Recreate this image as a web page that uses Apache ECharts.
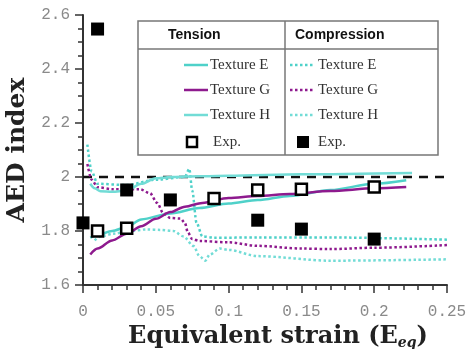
<!DOCTYPE html>
<html><head><meta charset="utf-8">
<script src="https://cdn.jsdelivr.net/npm/echarts@6/dist/echarts.min.js"></script>
<style>html,body{margin:0;padding:0;background:#fff}#c{width:469px;height:349px}</style>
</head><body><div id="c"></div>
<script>
var xTicks = [0, 0.05, 0.1, 0.15, 0.2, 0.25];
var yTicks = [1.6, 1.8, 2, 2.2, 2.4, 2.6];

var tensionE = [[0.005,1.775],[0.01,1.785],[0.02,1.80],[0.03,1.815],[0.04,1.843],[0.06,1.865],[0.08,1.885],[0.1,1.902],[0.12,1.915],[0.142,1.93],[0.17,1.952],[0.2,1.975],[0.222,1.988]];
var tensionG = [[0.005,1.713],[0.01,1.735],[0.02,1.765],[0.03,1.79],[0.04,1.818],[0.05,1.845],[0.06,1.87],[0.07,1.89],[0.082,1.904],[0.1,1.922],[0.12,1.93],[0.142,1.937],[0.17,1.948],[0.2,1.958],[0.222,1.963]];
var tensionH = [[0.005,1.975],[0.008,1.958],[0.012,1.947],[0.02,1.945],[0.03,1.95],[0.04,1.975],[0.05,1.995],[0.06,2.0],[0.1,2.005],[0.15,2.01],[0.226,2.015]];
var tensionExp = [[0.01,1.80],[0.03,1.81],[0.09,1.92],[0.12,1.952],[0.15,1.955],[0.2,1.963]];

var compE = [[0.003,2.12],[0.006,2.02],[0.01,1.975],[0.03,1.97],[0.05,1.99],[0.07,2.0],[0.073,2.03],[0.075,1.95],[0.078,1.83],[0.082,1.78],[0.09,1.775],[0.12,1.776],[0.17,1.776],[0.25,1.768]];
var compG = [[0.003,2.048],[0.006,1.99],[0.01,1.962],[0.02,1.955],[0.039,1.955],[0.046,1.94],[0.051,1.904],[0.055,1.867],[0.06,1.848],[0.067,1.846],[0.07,1.83],[0.072,1.795],[0.075,1.77],[0.08,1.763],[0.1,1.758],[0.12,1.745],[0.15,1.735],[0.17,1.733],[0.2,1.738],[0.25,1.748]];
var compH = [[0.008,1.765],[0.012,1.78],[0.021,1.79],[0.032,1.80],[0.044,1.806],[0.053,1.804],[0.062,1.80],[0.069,1.78],[0.076,1.744],[0.08,1.707],[0.084,1.69],[0.087,1.713],[0.094,1.735],[0.1,1.73],[0.12,1.707],[0.17,1.69],[0.25,1.695]];
var compExp = [[0,1.83],[0.01,2.548],[0.03,1.952],[0.06,1.915],[0.12,1.84],[0.15,1.807],[0.2,1.77]];
var refLine = [[0,2],[0.25,2]];

var cyan = '#4fd1c9', cyanL = '#72dcd6', purple = '#8e1a8e';
var dot = [2.5, 2.5];

function lineS(data, color, dash, w) {
  return {type:'line', data:data, showSymbol:false, smooth:0.3, smoothMonotone:'x', silent:true,
    lineStyle:{color:color, width:w||2.5, type:dash||'solid'}, z:2};
}

var chart = echarts.init(document.getElementById('c'), null, {renderer:'canvas'});
var serif = '"Liberation Serif", "DejaVu Serif", serif';
var bserif = '"DejaVu Serif", serif';
var L = 138, R = 438, T = 21, B = 155, D = 285, H = 49;
var rows = [65, 90, 115, 142];
var g = [
  {type:'rect', shape:{x:L, y:T, width:R-L, height:B-T}, style:{fill:'#fff', stroke:'#777', lineWidth:1.5}, z:10},
  {type:'line', shape:{x1:D, y1:T, x2:D, y2:B}, style:{stroke:'#777', lineWidth:1.5}, z:11},
  {type:'line', shape:{x1:L, y1:H, x2:R, y2:H}, style:{stroke:'#777', lineWidth:1.5}, z:11},
  {type:'text', x:168, y:35, style:{text:'Tension', font:'bold 14px "Liberation Sans", Arial, sans-serif', fill:'#111', verticalAlign:'middle'}, z:12},
  {type:'text', x:295, y:35, style:{text:'Compression', font:'bold 14px "Liberation Sans", Arial, sans-serif', fill:'#111', verticalAlign:'middle'}, z:12}
];
var tl = [['Texture E', cyan], ['Texture G', purple], ['Texture H', cyanL]];
var cl = [['Texture E', cyan], ['Texture G', purple], ['Texture H', cyanL]];
for (var i = 0; i < 3; i++) {
  g.push({type:'line', shape:{x1:184, y1:rows[i], x2:208, y2:rows[i]}, style:{stroke:tl[i][1], lineWidth:2.5}, z:12});
  g.push({type:'text', x:210, y:rows[i], style:{text:tl[i][0], font:'15px '+serif, fill:'#333', verticalAlign:'middle'}, z:12});
  g.push({type:'line', shape:{x1:290, y1:rows[i], x2:313, y2:rows[i]}, style:{stroke:cl[i][1], lineWidth:2.5, lineDash:dot}, z:12});
  g.push({type:'text', x:318, y:rows[i], style:{text:cl[i][0], font:'15px '+serif, fill:'#333', verticalAlign:'middle'}, z:12});
}
g.push({type:'rect', shape:{x:187, y:rows[3]-5, width:10, height:10}, style:{fill:'#fff', stroke:'#000', lineWidth:2.5}, z:12});
g.push({type:'text', x:213, y:rows[3], style:{text:'Exp.', font:'15px '+serif, fill:'#333', verticalAlign:'middle'}, z:12});
g.push({type:'rect', shape:{x:297, y:rows[3]-6, width:12, height:12}, style:{fill:'#000'}, z:12});
g.push({type:'text', x:318, y:rows[3], style:{text:'Exp.', font:'15px '+serif, fill:'#333', verticalAlign:'middle'}, z:12});

var mono = '"Liberation Mono", "DejaVu Sans Mono", monospace';
chart.setOption({
  animation:false,
  backgroundColor:'#fff',
  grid:{left:83, right:22, top:15, bottom:64, containLabel:false, outerBoundsMode:'none'},
  xAxis:{type:'value', min:xTicks[0], max:xTicks[xTicks.length-1], interval:0.05,
    axisLine:{show:true, onZero:false, lineStyle:{color:'#333', width:2}},
    axisTick:{show:true, length:8, lineStyle:{color:'#333', width:1.5}},
    minorTick:{show:true, splitNumber:5, length:5, lineStyle:{color:'#333', width:1.5}},
    splitLine:{show:false},
    axisLabel:{margin:19, color:'#8a8a8a', fontFamily:mono, fontSize:16, formatter:function(v){return String(+v.toFixed(2));}},
    name:'{a|Equivalent strain (E}{s|eq}{a|)}', nameLocation:'middle', nameGap:34,
    nameTextStyle:{padding:[0,0,0,26], rich:{a:{fontFamily:bserif, fontWeight:'bold', fontSize:24, color:'#222'}, s:{fontFamily:bserif, fontStyle:'italic', fontWeight:'bold', fontSize:14, color:'#222', verticalAlign:'bottom', padding:[12,0,0,0]}}}
  },
  yAxis:{type:'value', min:yTicks[0], max:yTicks[yTicks.length-1], interval:0.2,
    axisLine:{show:true, onZero:false, lineStyle:{color:'#333', width:2}},
    axisTick:{show:true, length:8, lineStyle:{color:'#333', width:1.5}},
    minorTick:{show:true, splitNumber:4, length:5, lineStyle:{color:'#333', width:1.5}},
    splitLine:{show:false},
    axisLabel:{margin:13, color:'#8a8a8a', fontFamily:mono, fontSize:16, formatter:function(v){return String(+v.toFixed(1));}},
    name:'AED index', nameLocation:'middle', nameGap:46, nameRotate:90,
    nameTextStyle:{fontFamily:bserif, fontWeight:'bold', fontSize:25, color:'#222'}
  },
  graphic:g,
  series:[
    {type:'line', data:refLine, showSymbol:false, silent:true, lineStyle:{color:'#111', width:2.5, type:[9,7]}, z:1},
    lineS(compH, cyanL, dot),
    lineS(compE, cyan, dot),
    lineS(compG, purple, dot),
    lineS(tensionH, cyanL, 'solid'),
    lineS(tensionE, cyan, 'solid'),
    lineS(tensionG, purple, 'solid'),
    {type:'scatter', data:tensionExp, symbol:'rect', symbolSize:11, itemStyle:{color:'#fff', borderColor:'#000', borderWidth:2.5, opacity:1}, z:5, silent:true},
    {type:'scatter', data:compExp, symbol:'rect', symbolSize:13, itemStyle:{color:'#000', opacity:1}, z:5, silent:true}
  ]
});
</script></body></html>
